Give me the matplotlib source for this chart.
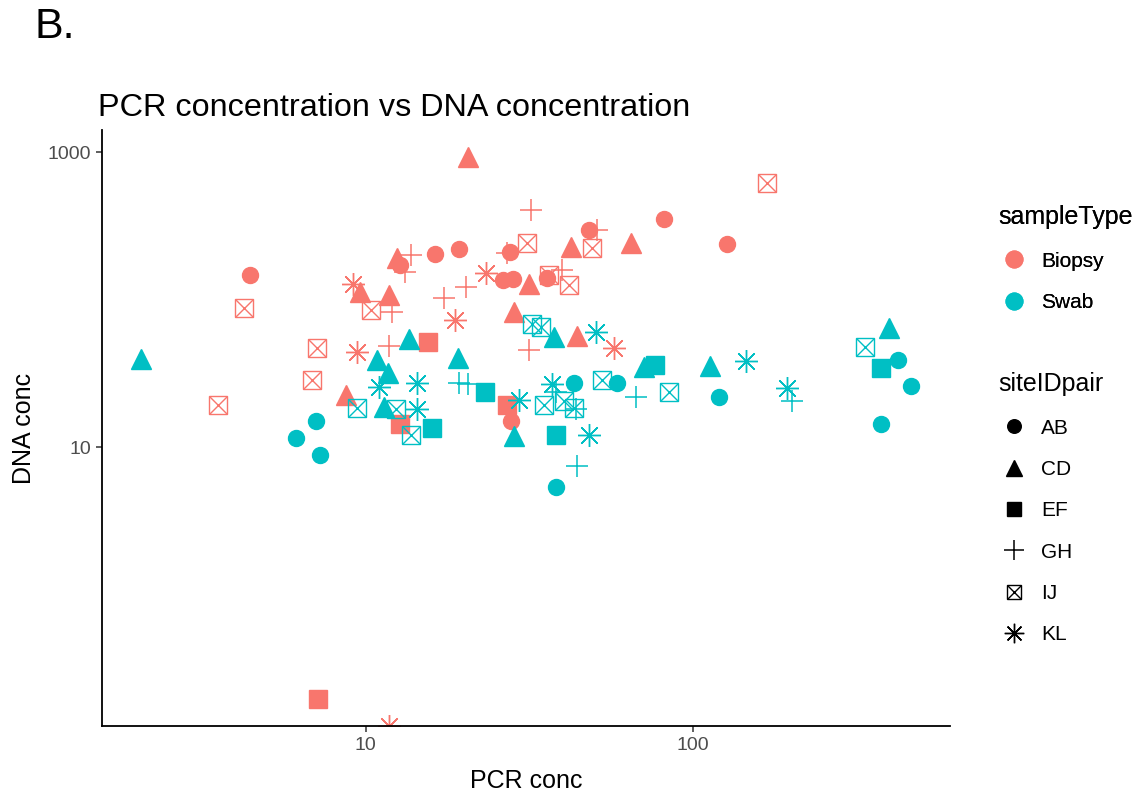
import numpy as np
import matplotlib
matplotlib.use("Agg")
import matplotlib.pyplot as plt
from matplotlib.lines import Line2D
from matplotlib.legend_handler import HandlerTuple

plt.rcParams['font.family'] = ['Liberation Sans', 'DejaVu Sans']

# PCR / DNA concentrations, grouped by sample type and site pair
biopsy_ab_pcr = [4.43, 12.7, 16.3, 19.3, 27.7, 26.2, 28.3, 35.9, 48.2, 81.6, 127, 27.9]
biopsy_ab_dna = [148, 172, 205, 221, 211, 136, 139, 141, 297, 353, 239, 15.0]
biopsy_cd_pcr = [20.6, 12.5, 9.59, 11.8, 42.5, 64.7, 31.6, 28.4, 44.3, 8.69]
biopsy_cd_dna = [925, 192, 113, 108, 228, 243, 128, 83.0, 57.1, 22.8]
biopsy_ef_pcr = [15.5, 12.7, 27.1, 7.14]
biopsy_ef_dna = [52.0, 14.3, 19.5, 0.198]
biopsy_gh_pcr = [13.8, 13.2, 12.0, 11.8, 17.4, 20.3, 32.1, 50.9, 27.1, 39.9, 31.6]
biopsy_gh_dna = [201, 155, 83.0, 48.9, 102, 122, 406, 297, 208, 160, 45.9]
biopsy_ij_pcr = [4.25, 7.10, 6.85, 3.54, 10.4, 31.2, 49.2, 36.4, 41.9, 168]
biopsy_ij_dna = [88.3, 47.4, 28.4, 19.5, 85.6, 243, 225, 148, 126, 618]
biopsy_kl_pcr = [9.13, 9.39, 18.8, 23.4, 57.4, 11.8]
biopsy_kl_dna = [128, 44.5, 73.3, 152, 47.4, 0.0]

swab_ab_pcr = [7.04, 6.12, 7.24, 38.2, 43.4, 58.7, 120, 425, 466, 377]
swab_ab_dna = [15.2, 11.5, 8.83, 5.37, 27.1, 27.5, 21.8, 39.3, 26.2, 14.5]
swab_cd_pcr = [2.05, 10.8, 11.7, 11.4, 13.6, 19.1, 28.4, 37.7, 70.9, 113, 399]
swab_cd_dna = [39.9, 39.3, 32.1, 18.9, 54.5, 40.6, 11.9, 56.2, 35.3, 35.8, 64.7]
swab_ef_pcr = [15.9, 23.1, 38.2, 76.6, 377]
swab_ef_dna = [13.6, 23.9, 12.1, 36.4, 34.7]
swab_gh_pcr = [19.3, 20.5, 38.2, 44.0, 44.3, 67.0, 201]
swab_gh_dna = [27.5, 26.7, 23.9, 18.1, 7.44, 22.1, 20.5]
swab_ij_pcr = [9.39, 12.4, 13.8, 32.3, 34.4, 35.1, 40.4, 43.4, 52.8, 84.5, 337]
swab_ij_dna = [18.6, 18.1, 12.2, 68.8, 65.7, 19.5, 20.5, 18.6, 28.8, 23.9, 48.1]
swab_kl_pcr = [11.0, 14.4, 14.4, 29.5, 37.2, 48.2, 50.6, 145, 194]
swab_kl_dna = [25.8, 27.5, 18.1, 21.1, 26.7, 12.2, 60.8, 38.7, 25.4]

sample_types = ["Biopsy", "Swab"]
site_pairs = ["AB", "CD", "EF", "GH", "IJ", "KL"]
type_colors = {"Biopsy": "#F8766D", "Swab": "#00BFC4"}

groups = {
    ("Biopsy", "AB"): (biopsy_ab_pcr, biopsy_ab_dna),
    ("Biopsy", "CD"): (biopsy_cd_pcr, biopsy_cd_dna),
    ("Biopsy", "EF"): (biopsy_ef_pcr, biopsy_ef_dna),
    ("Biopsy", "GH"): (biopsy_gh_pcr, biopsy_gh_dna),
    ("Biopsy", "IJ"): (biopsy_ij_pcr, biopsy_ij_dna),
    ("Biopsy", "KL"): (biopsy_kl_pcr, biopsy_kl_dna),
    ("Swab", "AB"): (swab_ab_pcr, swab_ab_dna),
    ("Swab", "CD"): (swab_cd_pcr, swab_cd_dna),
    ("Swab", "EF"): (swab_ef_pcr, swab_ef_dna),
    ("Swab", "GH"): (swab_gh_pcr, swab_gh_dna),
    ("Swab", "IJ"): (swab_ij_pcr, swab_ij_dna),
    ("Swab", "KL"): (swab_kl_pcr, swab_kl_dna),
}

# ggplot-like shapes: 16, 17, 15, 3, 7 (boxed x), 8 (asterisk)
shape_style = {
    "AB": [dict(marker="o", ms=11.5)],
    "CD": [dict(marker="^", ms=14)],
    "EF": [dict(marker="s", ms=12.5)],
    "GH": [dict(marker="+", ms=16.5, mew=1.1)],
    "IJ": [dict(marker="s", ms=12.5, mew=1.0, mfc="none"),
           dict(marker="x", ms=12.5, mew=1.0)],
    "KL": [dict(marker=(8, 2, 0), ms=16.5, mew=1.0)],
}


def log_limits(values, mult=0.05):
    lv = np.log10(values)
    span = lv.max() - lv.min()
    return 10 ** (lv.min() - mult * span), 10 ** (lv.max() + mult * span)


all_pcr = np.concatenate([np.asarray(v[0], float) for v in groups.values()])
all_dna = np.concatenate([np.asarray(v[1], float) for v in groups.values()])
xlim = log_limits(all_pcr)
ylim = log_limits(all_dna[all_dna > 0])

fig = plt.figure(figsize=(11.39, 7.94), dpi=100)
ax = fig.add_axes([102 / 1139, 68 / 794, 848 / 1139, 596 / 794])

for (stype, site), (pcr, dna) in groups.items():
    pcr = np.asarray(pcr, float)
    dna = np.asarray(dna, float)
    # zero concentrations sit on the lower panel edge (log of 0 = -Inf)
    dna = np.where(dna > 0, dna, ylim[0])
    for st in shape_style[site]:
        kw = dict(st)
        kw.setdefault("mfc", type_colors[stype])
        ax.plot(pcr, dna, ls="none", color=type_colors[stype],
                mec=type_colors[stype], **kw)

ax.set_xscale("log")
ax.set_yscale("log")
ax.set_xlim(xlim)
ax.set_ylim(ylim)
ax.set_xticks([10, 100])
ax.set_xticklabels(["10", "100"])
ax.set_yticks([10, 1000])
ax.set_yticklabels(["10", "1000"])
ax.minorticks_off()

for side in ["top", "right"]:
    ax.spines[side].set_visible(False)
for side in ["left", "bottom"]:
    ax.spines[side].set_linewidth(1.3)
    ax.spines[side].set_color("black")
ax.tick_params(axis="both", length=4, width=1.1, color="#333333",
               labelsize=14, labelcolor="#4D4D4D", pad=4)

ax.set_xlabel("PCR conc", fontsize=18, labelpad=11)
ax.set_ylabel("DNA conc", fontsize=18, labelpad=8)
ax.set_title("PCR concentration vs DNA concentration", fontsize=23.3,
             loc="left", pad=10, x=-0.005)

fig.text(35 / 1139, 1 - 27 / 794, "B.", fontsize=31, va="center", ha="left")

# legends
type_handles = [Line2D([], [], ls="none", marker="o", ms=12,
                       color=type_colors[t]) for t in sample_types]
leg1 = fig.legend(type_handles, sample_types, title="sampleType",
                  loc="upper left", bbox_to_anchor=(988 / 1139, 1 - 195 / 794),
                  frameon=False, fontsize=15, title_fontsize=18,
                  alignment="left", labelspacing=1.07, handletextpad=0.55,
                  handlelength=1.5, borderpad=0)
fig.add_artist(leg1)

shape_handles = []
for site in site_pairs:
    proxies = []
    for st in shape_style[site]:
        kw = dict(st)
        kw.setdefault("mfc", "black")
        kw["ms"] = kw["ms"] * 0.85
        proxies.append(Line2D([], [], ls="none", color="black", mec="black", **kw))
    shape_handles.append(tuple(proxies) if len(proxies) > 1 else proxies[0])
leg2 = fig.legend(shape_handles, site_pairs, title="siteIDpair",
                  loc="upper left", bbox_to_anchor=(988 / 1139, 1 - 362 / 794),
                  frameon=False, fontsize=15, title_fontsize=18,
                  alignment="left", labelspacing=1.07, handletextpad=0.55,
                  handlelength=1.5, borderpad=0,
                  handler_map={tuple: HandlerTuple(ndivide=1, pad=0)})

fig.savefig("out.png", dpi=100)
